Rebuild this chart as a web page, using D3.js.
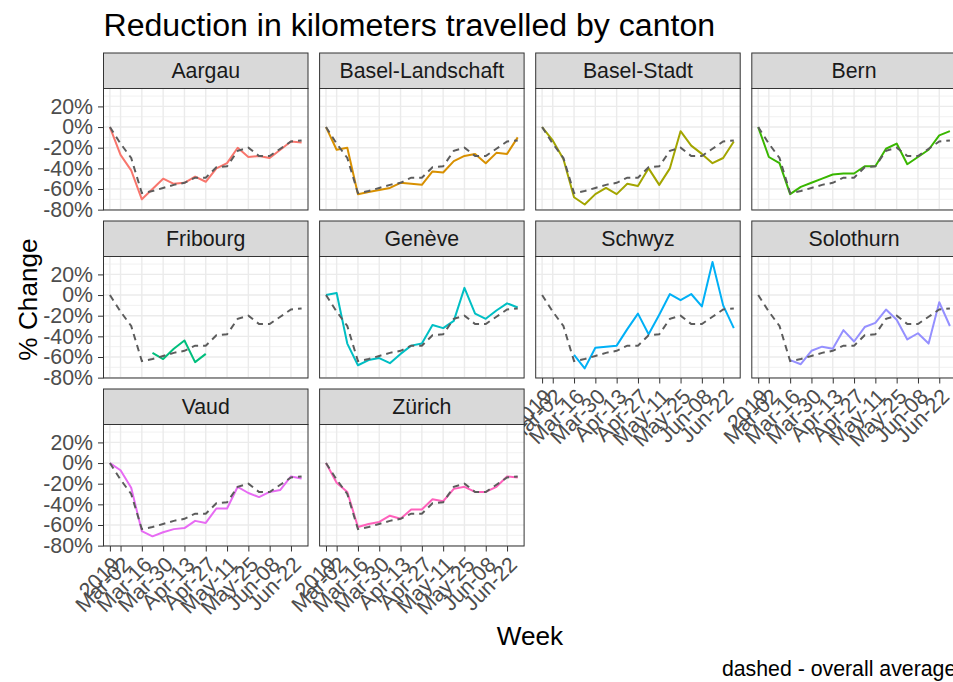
<!DOCTYPE html>
<html>
<head>
<meta charset="utf-8">
<script src="https://cdn.jsdelivr.net/npm/d3@7"></script>
<style>
  html, body { margin: 0; padding: 0; background: #ffffff; }
  svg { display: block; font-family: "Liberation Sans", Arial, Helvetica, sans-serif; }
</style>
</head>
<body>
<svg id="chart" width="953" height="682"></svg>
<script>
// ---------------- data ----------------
const weeks = ["2019", "Mar-02", "Mar-09", "Mar-16", "Mar-23", "Mar-30", "Apr-06", "Apr-13",
  "Apr-20", "Apr-27", "May-04", "May-11", "May-18", "May-25", "Jun-01", "Jun-08",
  "Jun-15", "Jun-22", "Jun-29"];
const weekTicks = ["2019", "Mar-02", "Mar-16", "Mar-30", "Apr-13", "Apr-27", "May-11", "May-25", "Jun-08", "Jun-22"];

const cantons = ["Aargau", "Basel-Landschaft", "Basel-Stadt", "Bern", "Fribourg",
  "Genève", "Schwyz", "Solothurn", "Vaud", "Zürich"];
const cantonColors = ["#F8766D", "#D89000", "#A3A500", "#39B600", "#00BF7D",
  "#00BFC4", "#00B0F6", "#9590FF", "#E76BF3", "#FF62BC"];

// percent change per week (null = no data)
const aargau          = [0, -27, -42, -70, -60, -50, -55, -54, -48, -53, -40, -35, -20, -29, -28, -30, -22, -14, -15];
const baselLandschaft = [0, -22, -20, -65, -63, -61, -59, -54, -55, -56, -43, -44, -33, -28, -26, -35, -25, -26, -10];
const baselStadt      = [0, -13, -31, -68, -75, -65, -59, -65, -55, -57, -40, -56, -40, -4, -18, -26, -35, -30, -14];
const bern            = [0, -29, -35, -65, -58, -54, -50, -46, -45, -45, -38, -38, -21, -16, -36, -29, -22, -8, -4];
const fribourg        = [null, null, null, null, -56, -62, -52, -44, -65, -57, null, null, null, null, null, null, null, null, null];
const geneve          = [0, 2, -47, -68, -63, -61, -66, -57, -49, -47, -29, -32, -25, 7, -18, -23, -15, -8, -12];
const schwyz          = [null, null, null, -58, -71, -51, -50, -49, -33, -18, -38, -19, 1, -5, 1, -11, 32, -10, -32];
const solothurn       = [null, null, null, -63, -67, -54, -50, -52, -34, -45, -31, -27, -14, -24, -43, -37, -47, -7, -30];
const vaud            = [0, -7, -24, -66, -71, -67, -64, -63, -56, -58, -44, -44, -23, -29, -33, -28, -26, -13, -15];
const zurich          = [0, -19, -28, -62, -59, -57, -51, -54, -45, -45, -35, -37, -25, -23, -28, -28, -23, -13, -14];
const overallAverage  = [0, -16, -30, -64, -62, -59, -56, -54, -49, -49, -39, -38, -23, -20, -28, -28, -21, -14, -13];

const seriesList = [aargau, baselLandschaft, baselStadt, bern, fribourg, geneve, schwyz, solothurn, vaud, zurich];

const yTicks = [20, 0, -20, -40, -60, -80];
const yMinor = [30, 10, -10, -30, -50, -70];

// ---------------- layout ----------------
const svg = d3.select("#chart");
const nCols = 4;
const panelLeft = 103.5, colPitch = 216.1, panelW = 204.5;
const stripTop0 = 53, rowPitch = 168, stripH = 35.5, panelH = 121.5;
const FS_AXIS = 21.3, FS_TITLE = 32.1, FS_ATITLE = 26.2;

// y domain: data range with 5% expansion
const allVals = seriesList.flat().concat(overallAverage).filter(v => v != null);
const yMin = -75, yMax = d3.max(allVals);
const yPad = (yMax - yMin) * 0.05;

const x = d3.scalePoint().domain(weeks).range([0, panelW]).padding(0.6);
const y = d3.scaleLinear().domain([yMin - yPad, yMax + yPad]).range([panelH, 0]);

const lineGen = d3.line()
  .defined(d => d != null)
  .x((d, i) => x(weeks[i]))
  .y(d => y(d));

// title
svg.append("text")
  .attr("x", panelLeft).attr("y", 36)
  .attr("font-size", FS_TITLE).attr("fill", "#000")
  .text("Reduction in kilometers travelled by canton");

cantons.forEach((name, k) => {
  const col = k % nCols, row = Math.floor(k / nCols);
  const px = panelLeft + col * colPitch;
  const sy = stripTop0 + row * rowPitch;
  const py = sy + stripH;
  const g = svg.append("g").attr("transform", `translate(${px},${py})`);

  g.append("rect").attr("width", panelW).attr("height", panelH).attr("fill", "#fff");

  // grid
  g.selectAll(".ymin").data(yMinor).enter().append("line")
    .attr("x1", 0).attr("x2", panelW)
    .attr("y1", d => y(d)).attr("y2", d => y(d))
    .attr("stroke", "#EBEBEB").attr("stroke-width", 0.7);
  g.selectAll(".ymaj").data(yTicks).enter().append("line")
    .attr("x1", 0).attr("x2", panelW)
    .attr("y1", d => y(d)).attr("y2", d => y(d))
    .attr("stroke", "#EBEBEB").attr("stroke-width", 1.4);
  g.selectAll(".xmaj").data(weekTicks).enter().append("line")
    .attr("y1", 0).attr("y2", panelH)
    .attr("x1", d => x(d)).attr("x2", d => x(d))
    .attr("stroke", "#EBEBEB").attr("stroke-width", 1.4);

  // canton line
  g.append("path").datum(seriesList[k])
    .attr("d", lineGen)
    .attr("fill", "none").attr("stroke", cantonColors[k])
    .attr("stroke-width", 2).attr("stroke-linejoin", "round");

  // overall average dashed
  g.append("path").datum(overallAverage)
    .attr("d", lineGen)
    .attr("fill", "none").attr("stroke", "#5C5C5C")
    .attr("stroke-width", 2).attr("stroke-dasharray", "6.5,5");

  // border
  g.append("rect").attr("width", panelW).attr("height", panelH)
    .attr("fill", "none").attr("stroke", "#333333").attr("stroke-width", 1);

  // strip
  svg.append("rect").attr("x", px).attr("y", sy).attr("width", panelW).attr("height", stripH)
    .attr("fill", "#D9D9D9").attr("stroke", "#333333").attr("stroke-width", 1);
  svg.append("text").attr("x", px + panelW / 2).attr("y", sy + stripH / 2)
    .attr("dy", "0.36em").attr("text-anchor", "middle")
    .attr("font-size", FS_AXIS).attr("fill", "#1A1A1A").text(name);

  // y axis on first column
  if (col === 0) {
    const ya = g.append("g").call(d3.axisLeft(y).tickValues(yTicks)
      .tickFormat(d => d + "%").tickSize(5.5).tickPadding(5));
    ya.select(".domain").remove();
    ya.selectAll("line").attr("stroke", "#333333");
    ya.selectAll("text").attr("font-size", FS_AXIS).attr("fill", "#4D4D4D")
      .attr("font-family", null);
  }
  // x axis when no panel below
  const hasBelow = (k + nCols) < cantons.length;
  if (!hasBelow) {
    const xa = g.append("g").attr("transform", `translate(0,${panelH})`)
      .call(d3.axisBottom(x).tickValues(weekTicks).tickSize(5.5));
    xa.select(".domain").remove();
    xa.selectAll("line").attr("stroke", "#333333");
    xa.selectAll("text")
      .attr("font-size", FS_AXIS).attr("fill", "#4D4D4D").attr("font-family", null)
      .attr("text-anchor", "end")
      .attr("y", 0).attr("dy", "0.72em")
      .attr("transform", "translate(0,9) rotate(-45)");
  }
});

// axis titles
svg.append("text")
  .attr("x", (panelLeft + panelLeft + 3 * colPitch + panelW) / 2).attr("y", 645)
  .attr("text-anchor", "middle").attr("font-size", FS_ATITLE).attr("fill", "#000")
  .text("Week");
svg.append("text")
  .attr("transform", `translate(37,${(stripTop0 + 2 * rowPitch + stripH + panelH + stripTop0) / 2}) rotate(-90)`)
  .attr("text-anchor", "middle").attr("font-size", FS_ATITLE).attr("fill", "#000")
  .text("% Change");

// caption
svg.append("text")
  .attr("x", panelLeft + 3 * colPitch + panelW).attr("y", 676)
  .attr("text-anchor", "end").attr("font-size", FS_AXIS).attr("fill", "#000")
  .text("dashed - overall average");
</script>
</body>
</html>
